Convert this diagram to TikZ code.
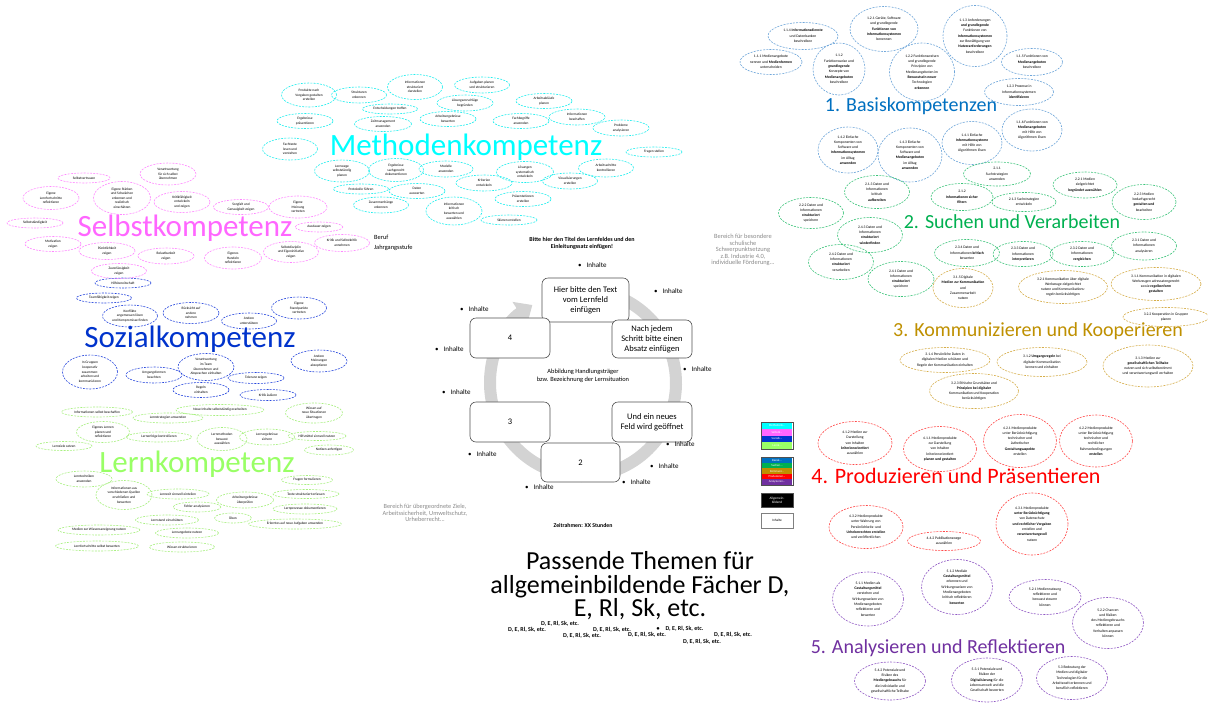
\documentclass[tikz,border=0pt]{standalone}
\usepackage{fontspec}
\setmainfont{Carlito}
\usetikzlibrary{shapes.geometric,arrows.meta}
\definecolor{cMeth}{HTML}{00FFFF}
\definecolor{cSelb}{HTML}{FF66FF}
\definecolor{cSoz}{HTML}{0033CC}
\definecolor{cLern}{HTML}{99FF66}
\definecolor{cBas}{HTML}{0070C0}
\definecolor{cSuch}{HTML}{00B050}
\definecolor{cKomm}{HTML}{BF9000}
\definecolor{cProd}{HTML}{FF0000}
\definecolor{cAna}{HTML}{7030A0}
\definecolor{eMeth}{HTML}{22EEEE}
\definecolor{eSelb}{HTML}{FF88FF}
\definecolor{eSoz}{HTML}{2848DD}
\definecolor{eLern}{HTML}{A8F080}
\definecolor{eBas}{HTML}{6FA6DA}
\definecolor{eSuch}{HTML}{3CC47A}
\definecolor{eKomm}{HTML}{D6AE4A}
\definecolor{eProd}{HTML}{FF4A4A}
\definecolor{eAna}{HTML}{9058C4}
\definecolor{ringgray}{HTML}{D3D3D3}
\definecolor{boxline}{HTML}{505050}
\definecolor{graytxt}{HTML}{8A8A8A}
\tikzset{
  kell/.style={ellipse,line width=0.6pt,dash pattern=on 2pt off 1.2pt,inner sep=0pt},
  tR/.style={font=\fontsize{3.7}{5.3}\selectfont,align=center,inner sep=0pt},
  tL/.style={font=\fontsize{3.5}{4.6}\selectfont,align=center,inner sep=0pt},
  head/.style={anchor=base,inner sep=0pt},
  cbox/.style={draw=boxline,line width=0.6pt,fill=white,rounded corners=6pt,align=center,
    font=\fontsize{8.5}{10}\selectfont,inner sep=1pt},
  inh/.style={anchor=west,inner sep=0pt,font=\fontsize{7}{8}\selectfont},
  ring/.style={draw=ringgray,line width=12pt},
  smalltxt/.style={align=center,inner sep=0pt},
  dtxt/.style={inner sep=0pt,font=\fontsize{6}{7}\selectfont\bfseries},
  legframe/.style={draw=boxline,line width=1pt,minimum width=32pt,inner sep=0pt},
  legbar/.style={minimum width=30pt,inner sep=0pt,text=white,font=\fontsize{3}{3}\selectfont}
}
\newcommand{\kel}[8]{%
  \node[kell,draw=#1,minimum width=#5pt,minimum height=#6pt] (#2) at (#3,#4) {};
  \node[#7] (#2t) at (#2.center) {#8};}
\begin{document}
\begin{tikzpicture}[x=1pt,y=-1pt]
\useasboundingbox (0,0) rectangle (1208,702);
\fill[white] (0,0) rectangle (1208,702);

% ---------------- headings
\node[head,text=cMeth,font=\fontsize{31}{31}\selectfont] (hMeth) at (466,155) {Methodenkompetenz};
\node[head,text=cSelb,font=\fontsize{31}{31}\selectfont] (hSelb) at (185,236) {Selbstkompetenz};
\node[head,text=cSoz,font=\fontsize{31}{31}\selectfont] (hSoz) at (190,347) {Sozialkompetenz};
\node[head,text=cLern,font=\fontsize{31}{31}\selectfont] (hLern) at (197,472) {Lernkompetenz};
\node[head,text=cBas,font=\fontsize{20}{20}\selectfont] (hBas) at (911,111) {1. Basiskompetenzen};
\node[head,text=cSuch,font=\fontsize{20}{20}\selectfont] (hSuch) at (1012,228) {2. Suchen und Verarbeiten};
\node[head,text=cKomm,font=\fontsize{20}{20}\selectfont] (hKomm) at (1038,336) {3. Kommunizieren und Kooperieren};
\node[head,text=cProd,font=\fontsize{22}{22}\selectfont] (hProd) at (956,483) {4. Produzieren und Präsentieren};
\node[head,text=cAna,font=\fontsize{20}{20}\selectfont] (hAna) at (938,653) {5. Analysieren und Reflektieren};

% ---------------- Basiskompetenzen
\kel{eBas}{a1}{771}{62}{62}{25}{tR}{1.1.1 Medienangebote\\nennen und \textbf{Medienformen}\\unterscheiden}
\kel{eBas}{a2}{803}{36}{70}{27}{tR}{1.1.4 \textbf{Informationsdienste}\\und Datenbanken\\beschreiben}
\kel{eBas}{a3}{839}{69}{52}{52}{tR}{1.1.2\\Funktionsweise und\\\textbf{grundlegende}\\Konzepte von\\\textbf{Medienangeboten}\\beschreiben}
\kel{eBas}{a4}{884}{29}{68}{45}{tR}{1.2.1 Geräte, Software\\und grundlegende\\\textbf{Funktionen von}\\\textbf{Informationssystemen}\\benennen}
\kel{eBas}{a5}{922}{72}{65}{58}{tR}{1.2.2 Funktionsweisen\\und grundlegende\\Prinzipien von\\Medienangeboten im\\\textbf{Bewusstsein neuer}\\Technologien\\\textbf{erkennen}}
\kel{eBas}{a6}{975}{36}{64}{61}{tR}{1.1.3 Anforderungen\\\textbf{und grundlegende}\\Funktionen von\\\textbf{Informationssystemen}\\zur Bewältigung von\\\textbf{Nutzeranforderungen}\\beschreiben}
\kel{eBas}{a7}{1032}{62}{61}{27}{tR}{1.1.5 Funktionen von\\\textbf{Medienangeboten}\\beschreiben}
\kel{eBas}{a8}{1019}{92}{69}{27}{tR}{1.2.3 Prozesse in\\Informationssystemen\\\textbf{identifizieren}}
\kel{eBas}{a9}{1032}{130}{60}{42}{tR}{1.1.6 Funktionen von\\\textbf{Medienangeboten}\\mit Hilfe von\\Algorithmen lösen}
\kel{eBas}{a10}{848}{150}{60}{46}{tR}{1.4.2 Einfache\\Komponenten von\\Software und\\\textbf{Informationssystemen}\\im Alltag\\\textbf{anwenden}}
\kel{eBas}{a11}{910}{155}{64}{54}{tR}{1.4.3 Einfache\\Komponenten von\\Software und\\\textbf{Medienangeboten}\\im Alltag\\\textbf{anwenden}}
\kel{eBas}{a12}{972}{143}{60}{43}{tR}{1.4.1 Einfache\\\textbf{Informationssysteme}\\mit Hilfe von\\Algorithmen lösen}

% ---------------- Suchen und Verarbeiten
\kel{eSuch}{g1}{997}{174}{67}{24}{tR}{2.1.1\\Suchstrategien\\anwenden}
\kel{eSuch}{g2}{1085}{185}{64}{26}{tR}{2.2.1 Medien\\zielgerichtet\\\textbf{begründet auswählen}}
\kel{eSuch}{g3}{1144}{202}{64}{35}{tR}{2.2.3 Medien\\bedarfsgerecht\\\textbf{gestalten und}\\bearbeiten}
\kel{eSuch}{g4}{877}{192}{65}{33}{tR}{2.1.3 Daten und\\Informationen\\kritisch\\\textbf{aufbereiten}}
\kel{eSuch}{g5}{962}{197}{62}{27}{tR}{2.1.2\\\textbf{Informationen sicher}\\\textbf{filtern}}
\kel{eSuch}{g6}{1024}{202}{64}{19}{tR}{2.1.3 Suchstrategien\\entwickeln}
\kel{eSuch}{g7}{811}{213}{65}{31}{tR}{2.2.2 Daten und\\Informationen\\\textbf{strukturiert}\\speichern}
\kel{eSuch}{g8}{870}{235}{65}{35}{tR}{2.4.3 Daten und\\Informationen\\\textbf{strukturiert}\\\textbf{wiederfinden}}
\kel{eSuch}{g9}{841}{262}{65}{35}{tR}{2.4.2 Daten und\\Informationen\\\textbf{strukturiert}\\verarbeiten}
\kel{eSuch}{g10}{901}{279}{66}{35}{tR}{2.4.1 Daten und\\Informationen\\\textbf{strukturiert}\\speichern}
\kel{eSuch}{g11}{967}{253}{65}{27}{tR}{2.3.4 Daten und\\Informationen \textbf{kritisch}\\bewerten}
\kel{eSuch}{g12}{1023}{254}{60}{25}{tR}{2.3.3 Daten und\\Informationen\\\textbf{interpretieren}}
\kel{eSuch}{g13}{1082}{254}{64}{25}{tR}{2.3.2 Daten und\\Informationen\\\textbf{vergleichen}}
\kel{eSuch}{g14}{1144}{246}{65}{28}{tR}{2.3.1 Daten und\\Informationen\\analysieren}

% ---------------- Kommunizieren und Kooperieren
\kel{eKomm}{k1}{963}{288}{60}{39}{tR}{3.1.5 Digitale\\\textbf{Medien zur Kommunikation}\\und\\Zusammenarbeit\\nutzen}
\kel{eKomm}{k2}{1063}{287}{89}{33}{tR}{3.2.1 Kommunikation über digitale\\Werkzeuge zielgerichtet\\nutzen und Kommunikations-\\regeln berücksichtigen}
\kel{eKomm}{k3}{1156}{284}{90}{33}{tR}{3.1.1 Kommunikation in digitalen\\Werkzeugen adressatengerecht\\sowie \textbf{regelkonform}\\\textbf{gestalten}}
\kel{eKomm}{k4}{1166}{317}{86}{19}{tR}{3.2.2 Kooperation in Gruppen\\planen}
\kel{eKomm}{k5}{945}{360}{90}{25}{tR}{3.1.4 Persönliche Daten in\\digitalen Medien schützen und\\Regeln der Kommunikation einhalten}
\kel{eKomm}{k6}{1042}{362}{90}{29}{tR}{3.1.2 \textbf{Umgangsregeln} bei\\digitaler Kommunikation\\kennen und einhalten}
\kel{eKomm}{k7}{1148}{366}{90}{42}{tR}{3.1.3 Medien zur\\\textbf{gesellschaftlichen Teilhabe}\\nutzen und sich selbstbestimmt\\und verantwortungsvoll verhalten}
\kel{eKomm}{k8}{974}{391}{89}{35}{tR}{3.2.3 Ethische Grundsätze und\\\textbf{Prinzipien bei digitaler}\\Kommunikation und Kooperation\\berücksichtigen}

% ---------------- Produzieren und Präsentieren
\kel{eProd}{p1}{855}{443}{74}{43}{tR}{4.1.2 Medien zur\\Darstellung\\von Inhalten\\\textbf{kriterienorientiert}\\auswählen}
\kel{eProd}{p2}{940}{449}{73}{45}{tR}{4.1.1 Medienprodukte\\zur Darstellung\\von Inhalten\\kriterienorientiert\\\textbf{planen und gestalten}}
\kel{eProd}{p3}{1020}{441}{73}{53}{tR}{4.2.1 Medienprodukte\\unter Berücksichtigung\\technischer und\\ästhetischer\\\textbf{Gestaltungsaspekte}\\erstellen}
\kel{eProd}{p4}{1096}{441}{73}{52}{tR}{4.2.2 Medienprodukte\\unter Berücksichtigung\\technischer und\\rechtlicher\\Rahmenbedingungen\\\textbf{erstellen}}
\kel{eProd}{p5}{866}{527}{74}{43}{tR}{4.3.2 Medienprodukte\\unter Wahrung von\\Persönlichkeits- und\\\textbf{Urheberrechten erstellen}\\und veröffentlichen}
\kel{eProd}{p6}{944}{541}{73}{19}{tR}{4.4.2 Publikationswege\\auswählen}
\kel{eProd}{p7}{1032}{524}{72}{62}{tR}{4.3.1 Medienprodukte\\\textbf{unter Berücksichtigung}\\von Datenschutz\\\textbf{und rechtlicher Vorgaben}\\erstellen und\\\textbf{verantwortungsvoll}\\nutzen}

% ---------------- Analysieren und Reflektieren
\kel{eAna}{r1}{868}{599}{71}{54}{tR}{5.1.1 Medien als\\\textbf{Gestaltungsmittel}\\verstehen und\\Wirkungsweisen von\\Medienangeboten\\reflektieren und\\bewerten}
\kel{eAna}{r2}{957}{587}{71}{55}{tR}{5.1.2 Mediale\\\textbf{Gestaltungsmittel}\\erkennen und\\Wirkungsweisen von\\Medienangeboten\\kritisch reflektieren\\\textbf{bewerten}}
\kel{eAna}{r3}{1045}{597}{72}{35}{tR}{5.2.1 Mediennutzung\\reflektieren und\\bewusst steuern\\können}
\kel{eAna}{r4}{1108}{623}{71}{51}{tR}{5.2.2 Chancen\\und Risiken\\des Mediengebrauchs\\reflektieren und\\Verhalten anpassen\\können}
\kel{eAna}{r5}{890}{681}{71}{38}{tR}{5.4.2 Potenziale und\\Risiken des\\\textbf{Mediengebrauchs} für\\die individuelle und\\gesellschaftliche Teilhabe}
\kel{eAna}{r6}{987}{680}{71}{44}{tR}{5.3.1 Potenziale und\\Risiken der\\\textbf{Digitalisierung} für die\\Lebensumwelt und die\\Gesellschaft bewerten}
\kel{eAna}{r7}{1072}{678}{71}{43}{tR}{5.3 Bedeutung der\\Medien und digitaler\\Technologien für die\\Arbeitswelt erkennen und\\beruflich reflektieren}

% ---------------- Methodenkompetenz
\kel{eMeth}{m1}{309}{95}{55}{24}{tL}{Produkte nach\\Vorgaben gestalten\\erstellen}
\kel{eMeth}{m2}{359}{95}{55}{16}{tL}{Strukturen\\erkennen}
\kel{eMeth}{m3}{415}{87}{55}{25}{tL}{Informationen\\strukturiert\\darstellen}
\kel{eMeth}{m4}{482}{85}{55}{16}{tL}{Aufgaben planen\\und strukturieren}
\kel{eMeth}{m5}{390}{109}{55}{10}{tL}{Entscheidungen treffen}
\kel{eMeth}{m6}{465}{103}{56}{16}{tL}{Lösungsvorschläge\\begründen}
\kel{eMeth}{m7}{544}{101}{56}{15}{tL}{Arbeitsabläufe\\planen}
\kel{eMeth}{m8}{305}{121}{56}{15}{tL}{Ergebnisse\\präsentieren}
\kel{eMeth}{m9}{383}{124}{57}{15}{tL}{Zeitmanagement\\anwenden}
\kel{eMeth}{m10}{448}{119}{56}{15}{tL}{Arbeitsergebnisse\\bewerten}
\kel{eMeth}{m11}{521}{121}{56}{15}{tL}{Fachbegriffe\\anwenden}
\kel{eMeth}{m12}{577}{117}{56}{16}{tL}{Informationen\\beschaffen}
\kel{eMeth}{m13}{621}{128}{56}{16}{tL}{Probleme\\analysieren}
\kel{eMeth}{m14}{290}{149}{55}{22}{tL}{Fachtexte\\lesen und\\verstehen}
\kel{eMeth}{m15}{654}{152}{56}{10}{tL}{Fragen stellen}
\kel{eMeth}{m16}{342}{171}{55}{22}{tL}{Lernwege\\selbstständig\\planen}
\kel{eMeth}{m17}{396}{170}{55}{23}{tL}{Ergebnisse\\sachgerecht\\dokumentieren}
\kel{eMeth}{m18}{446}{169}{54}{16}{tL}{Modelle\\anwenden}
\kel{eMeth}{m19}{525}{172}{57}{21}{tL}{Lösungen\\systematisch\\entwickeln}
\kel{eMeth}{m20}{606}{168}{55}{18}{tL}{Arbeitsschritte\\kontrollieren}
\kel{eMeth}{m21}{484}{183}{56}{16}{tL}{Kriterien\\entwickeln}
\kel{eMeth}{m22}{570}{181}{55}{16}{tL}{Visualisierungen\\erstellen}
\kel{eMeth}{m23}{361}{189}{55}{10}{tL}{Protokolle führen}
\kel{eMeth}{m24}{417}{191}{56}{15}{tL}{Daten\\auswerten}
\kel{eMeth}{m25}{381}{205}{55}{16}{tL}{Zusammenhänge\\erkennen}
\kel{eMeth}{m26}{523}{199}{56}{15}{tL}{Präsentationen\\erstellen}
\kel{eMeth}{m27}{454}{211}{56}{28}{tL}{Informationen\\kritisch\\bewerten und\\auswählen}
\kel{eMeth}{m28}{509}{220}{56}{10}{tL}{Skizzen erstellen}

% ---------------- Selbstkompetenz
\kel{eSelb}{s1}{84}{178}{52}{10}{tL}{Selbstvertrauen}
\kel{eSelb}{s2}{168}{174}{56}{22}{tL}{Verantwortung\\für sich selbst\\übernehmen}
\kel{eSelb}{s3}{51}{198}{56}{23}{tL}{Eigene\\Lernfortschritte\\reflektieren}
\kel{eSelb}{s4}{122}{198}{57}{33}{tL}{Eigene Stärken\\und Schwächen\\erkennen und\\realistisch\\einschätzen}
\kel{eSelb}{s5}{182}{202}{56}{21}{tL}{Kritikfähigkeit\\entwickeln\\und zeigen}
\kel{eSelb}{s6}{35}{223}{56}{10}{tL}{Selbstständigkeit}
\kel{eSelb}{s7}{241}{207}{55}{15}{tL}{Sorgfalt und\\Genauigkeit zeigen}
\kel{eSelb}{s8}{298}{207}{58}{22}{tL}{Eigene\\Meinung\\vertreten}
\kel{eSelb}{s9}{319}{227}{48}{10}{tL}{Ausdauer zeigen}
\kel{eSelb}{s10}{53}{244}{56}{15}{tL}{Motivation\\zeigen}
\kel{eSelb}{s11}{107}{251}{56}{17}{tL}{Pünktlichkeit\\zeigen}
\kel{eSelb}{s12}{166}{256}{56}{16}{tL}{Belastbarkeit\\zeigen}
\kel{eSelb}{s13}{233}{258}{57}{22}{tL}{Eigenes\\Handeln\\reflektieren}
\kel{eSelb}{s14}{291}{252}{55}{21}{tL}{Selbstdisziplin\\und Eigeninitiative\\zeigen}
\kel{eSelb}{s15}{342}{243}{55}{17}{tL}{Kritik und Selbstkritik\\annehmen}
\kel{eSelb}{s16}{119}{271}{55}{15}{tL}{Zuverlässigkeit\\zeigen}

% ---------------- Sozialkompetenz
\kel{eSoz}{b1}{123}{283}{56}{10}{tL}{Hilfsbereitschaft}
\kel{eSoz}{b2}{104}{298}{55}{10}{tL}{Teamfähigkeit zeigen}
\kel{eSoz}{b3}{130}{316}{55}{22}{tL}{Konflikte\\angemessen lösen\\und Kompromisse finden}
\kel{eSoz}{b4}{191}{313}{56}{21}{tL}{Rücksicht auf\\andere\\nehmen}
\kel{eSoz}{b5}{249}{321}{55}{16}{tL}{Andere\\unterstützen}
\kel{eSoz}{b6}{299}{308}{55}{22}{tL}{Eigene\\Standpunkte\\vertreten}
\kel{eSoz}{b7}{90}{372}{55}{34}{tL}{In Gruppen\\kooperativ\\zusammen-\\arbeiten und\\kommunizieren}
\kel{eSoz}{b8}{154}{375}{56}{16}{tL}{Umgangsformen\\beachten}
\kel{eSoz}{b9}{206}{367}{56}{27}{tL}{Verantwortung\\im Team\\übernehmen und\\Absprachen einhalten}
\kel{eSoz}{b10}{319}{361}{56}{22}{tL}{Andere\\Meinungen\\akzeptieren}
\kel{eSoz}{b11}{256}{378}{56}{11}{tL}{Toleranz zeigen}
\kel{eSoz}{b12}{201}{390}{56}{15}{tL}{Regeln\\einhalten}
\kel{eSoz}{b13}{268}{395}{56}{11}{tL}{Kritik äußern}

% ---------------- Lernkompetenz
\kel{eLern}{l1}{97}{412}{71}{10}{tL}{Informationen selbst beschaffen}
\kel{eLern}{l2}{168}{418}{70}{10}{tL}{Lernstrategien anwenden}
\kel{eLern}{l3}{220}{410}{88}{11}{tL}{Neue Inhalte selbstständig erarbeiten}
\kel{eLern}{l4}{314}{413}{57}{20}{tL}{Wissen auf\\neue Situationen\\übertragen}
\kel{eLern}{l5}{103}{432}{53}{21}{tL}{Eigenes Lernen\\planen und\\reflektieren}
\kel{eLern}{l6}{64}{446}{56}{9}{tL}{Lernziele setzen}
\kel{eLern}{l7}{159}{437}{65}{10}{tL}{Lernerfolge kontrollieren}
\kel{eLern}{l8}{222}{439}{50}{23}{tL}{Lernmethoden\\bewusst\\auswählen}
\kel{eLern}{l9}{267}{437}{55}{16}{tL}{Lernergebnisse\\sichern}
\kel{eLern}{l10}{317}{436}{58}{9}{tL}{Hilfsmittel sinnvoll nutzen}
\kel{eLern}{l11}{329}{450}{49}{10}{tL}{Notizen anfertigen}
\kel{eLern}{l12}{84}{479}{56}{16}{tL}{Lerntechniken\\anwenden}
\kel{eLern}{l13}{124}{495}{56}{29}{tL}{Informationen aus\\verschiedenen Quellen\\erschließen und\\bewerten}
\kel{eLern}{l14}{178}{494}{62}{10}{tL}{Lernzeit sinnvoll einteilen}
\kel{eLern}{l15}{245}{500}{57}{16}{tL}{Arbeitsergebnisse\\überprüfen}
\kel{eLern}{l16}{307}{480}{51}{9}{tL}{Fragen formulieren}
\kel{eLern}{l17}{306}{494}{66}{9}{tL}{Texte strukturiert erfassen}
\kel{eLern}{l18}{197}{507}{48}{10}{tL}{Fehler analysieren}
\kel{eLern}{l19}{305}{509}{64}{10}{tL}{Lernprozesse dokumentieren}
\kel{eLern}{l20}{167}{520}{63}{10}{tL}{Lernstand einschätzen}
\kel{eLern}{l21}{233}{518}{37}{10}{tL}{Üben}
\kel{eLern}{l22}{295}{524}{93}{10}{tL}{Erlerntes auf neue Aufgaben anwenden}
\kel{eLern}{l23}{99}{530}{82}{10}{tL}{Medien zur Wissensaneignung nutzen}
\kel{eLern}{l24}{187}{533}{63}{10}{tL}{Lernangebote nutzen}
\kel{eLern}{l25}{97}{546}{83}{10}{tL}{Lernfortschritte selbst bewerten}
\kel{eLern}{l26}{182}{547}{65}{10}{tL}{Wissen strukturieren}

% ---------------- cycle
\coordinate (rc) at (583,383);
\draw[ring,-{Triangle[width=26pt,length=15pt]}] ([shift={(-95:93)}]rc) arc[start angle=-95,end angle=237,radius=93];
\node[cbox,minimum width=87pt,minimum height=44pt] (bTop) at (585.5,300) {Hier bitte den Text\\vom Lernfeld\\einfügen};
\node[cbox,minimum width=80pt,minimum height=38pt] (bR1) at (652,339) {Nach jedem\\Schritt bitte einen\\Absatz einfügen};
\node[cbox,minimum width=80pt,minimum height=40pt] (bR2) at (652,422) {Und ein neues\\Feld wird geöffnet};
\node[cbox,minimum width=79pt,minimum height=39pt] (bB) at (580.5,462.5) {2};
\node[cbox,minimum width=80pt,minimum height=40pt] (bL2) at (510,422) {3};
\node[cbox,minimum width=80pt,minimum height=40pt] (bL1) at (510,338) {4};

\node[smalltxt,font=\fontsize{6.4}{8.3}\selectfont] (center) at (583,376) {Abbildung Handlungsträger\\bzw. Bezeichnung der Lernsituation};
\node[smalltxt,font=\fontsize{6}{7}\selectfont\bfseries] (title) at (582,243) {Bitte hier den Titel des Lernfeldes und den\\Einleitungssatz einfügen!};
\node[anchor=west,align=left,inner sep=0pt,font=\fontsize{6.4}{9.5}\selectfont] (beruf) at (374,243) {Beruf\\Jahrgangsstufe};

\node[inh] (i1) at (578,265) {•\hspace{5pt}Inhalte};
\node[inh] (i2) at (654,291) {•\hspace{5pt}Inhalte};
\node[inh] (i3) at (460,309) {•\hspace{5pt}Inhalte};
\node[inh] (i4) at (435,349) {•\hspace{5pt}Inhalte};
\node[inh] (i5) at (683,369) {•\hspace{5pt}Inhalte};
\node[inh] (i6) at (442,392) {•\hspace{5pt}Inhalte};
\node[inh] (i7) at (666,444) {•\hspace{5pt}Inhalte};
\node[inh] (i8) at (468,454) {•\hspace{5pt}Inhalte};
\node[inh] (i9) at (650,466) {•\hspace{5pt}Inhalte};
\node[inh] (i10) at (622,482) {•\hspace{5pt}Inhalte};
\node[inh] (i11) at (525,487) {•\hspace{5pt}Inhalte};

\node[smalltxt,text=graytxt,font=\fontsize{6.3}{6.2}\selectfont] (zielt) at (425,513) {Bereich für übergeordnete Ziele,\\Arbeitssicherheit, Umweltschutz,\\Urheberrecht...};
\node[smalltxt,text=graytxt,font=\fontsize{6.4}{6.6}\selectfont] (schwer) at (743,250) {Bereich für besondere\\schulische\\Schwerpunktsetzung\\z.B. Industrie 4.0,\\individuelle Förderung...};
\node[inner sep=0pt,font=\fontsize{5.8}{6}\selectfont\bfseries] (zeit) at (583,525) {Zeitrahmen: XX Stunden};

% ---------------- big bottom text
\node[smalltxt,font=\fontsize{26}{23.5}\selectfont] (themen) at (640,586) {Passende Themen für\\allgemeinbildende Fächer D,\\E, Rl, Sk, etc.};
\node[dtxt] (d1) at (560,624) {D, E, Rl, Sk, etc.};
\node[dtxt] (d2) at (527,630) {D, E, Rl, Sk, etc.};
\node[dtxt] (d3) at (612,630) {D, E, Rl, Sk, etc.};
\node[dtxt] (d4) at (582,636) {D, E, Rl, Sk, etc.};
\node[dtxt] (d5) at (647,635) {D, E, Rl, Sk, etc.};
\node[dtxt] (d6) at (680,629) {•\hspace{6pt}D, E, Rl, Sk, etc.};
\node[dtxt] (d7) at (733,635) {D, E, Rl, Sk, etc.};
\node[dtxt] (d8) at (702,642) {D, E, Rl, Sk, etc.};

% ---------------- legend
\node[legframe,minimum height=27pt] (lf1) at (777,435.5) {};
\node[legbar,fill=cMeth,minimum height=6.5pt] (lm) at (777,425.75) {Methodenk...};
\node[legbar,fill=cSelb,minimum height=6.5pt] (ls) at (777,432.25) {Selbstk...};
\node[legbar,fill=cSoz,minimum height=6.5pt] (lz) at (777,438.75) {Sozialk...};
\node[legbar,fill=cLern,minimum height=6.5pt] (ll) at (777,445.25) {Lernk...};
\node[legframe,minimum height=28pt] (lf2) at (777,471) {};
\node[legbar,fill=cBas,minimum height=5.4pt] (lb) at (777,460.2) {Basisk...};
\node[legbar,fill=cSuch,minimum height=5.4pt] (lsu) at (777,465.6) {Suchen...};
\node[legbar,fill=cKomm,minimum height=5.4pt] (lko) at (777,471.0) {Kommuni...};
\node[legbar,fill=cProd,minimum height=5.4pt] (lpr) at (777,476.4) {Produzieren...};
\node[legbar,fill=cAna,minimum height=5.4pt] (lan) at (777,481.8) {Analysieren...};
\node[legframe,fill=black,minimum height=14pt,text=white,align=center,font=\fontsize{3.4}{4}\selectfont] (lf3) at (777,500) {Allgemein-\\bildend};
\node[legframe,draw=gray,fill=white,minimum height=15pt,font=\fontsize{3.4}{4}\selectfont] (lf4) at (777,520.5) {Inhalte};
\end{tikzpicture}
\end{document}
